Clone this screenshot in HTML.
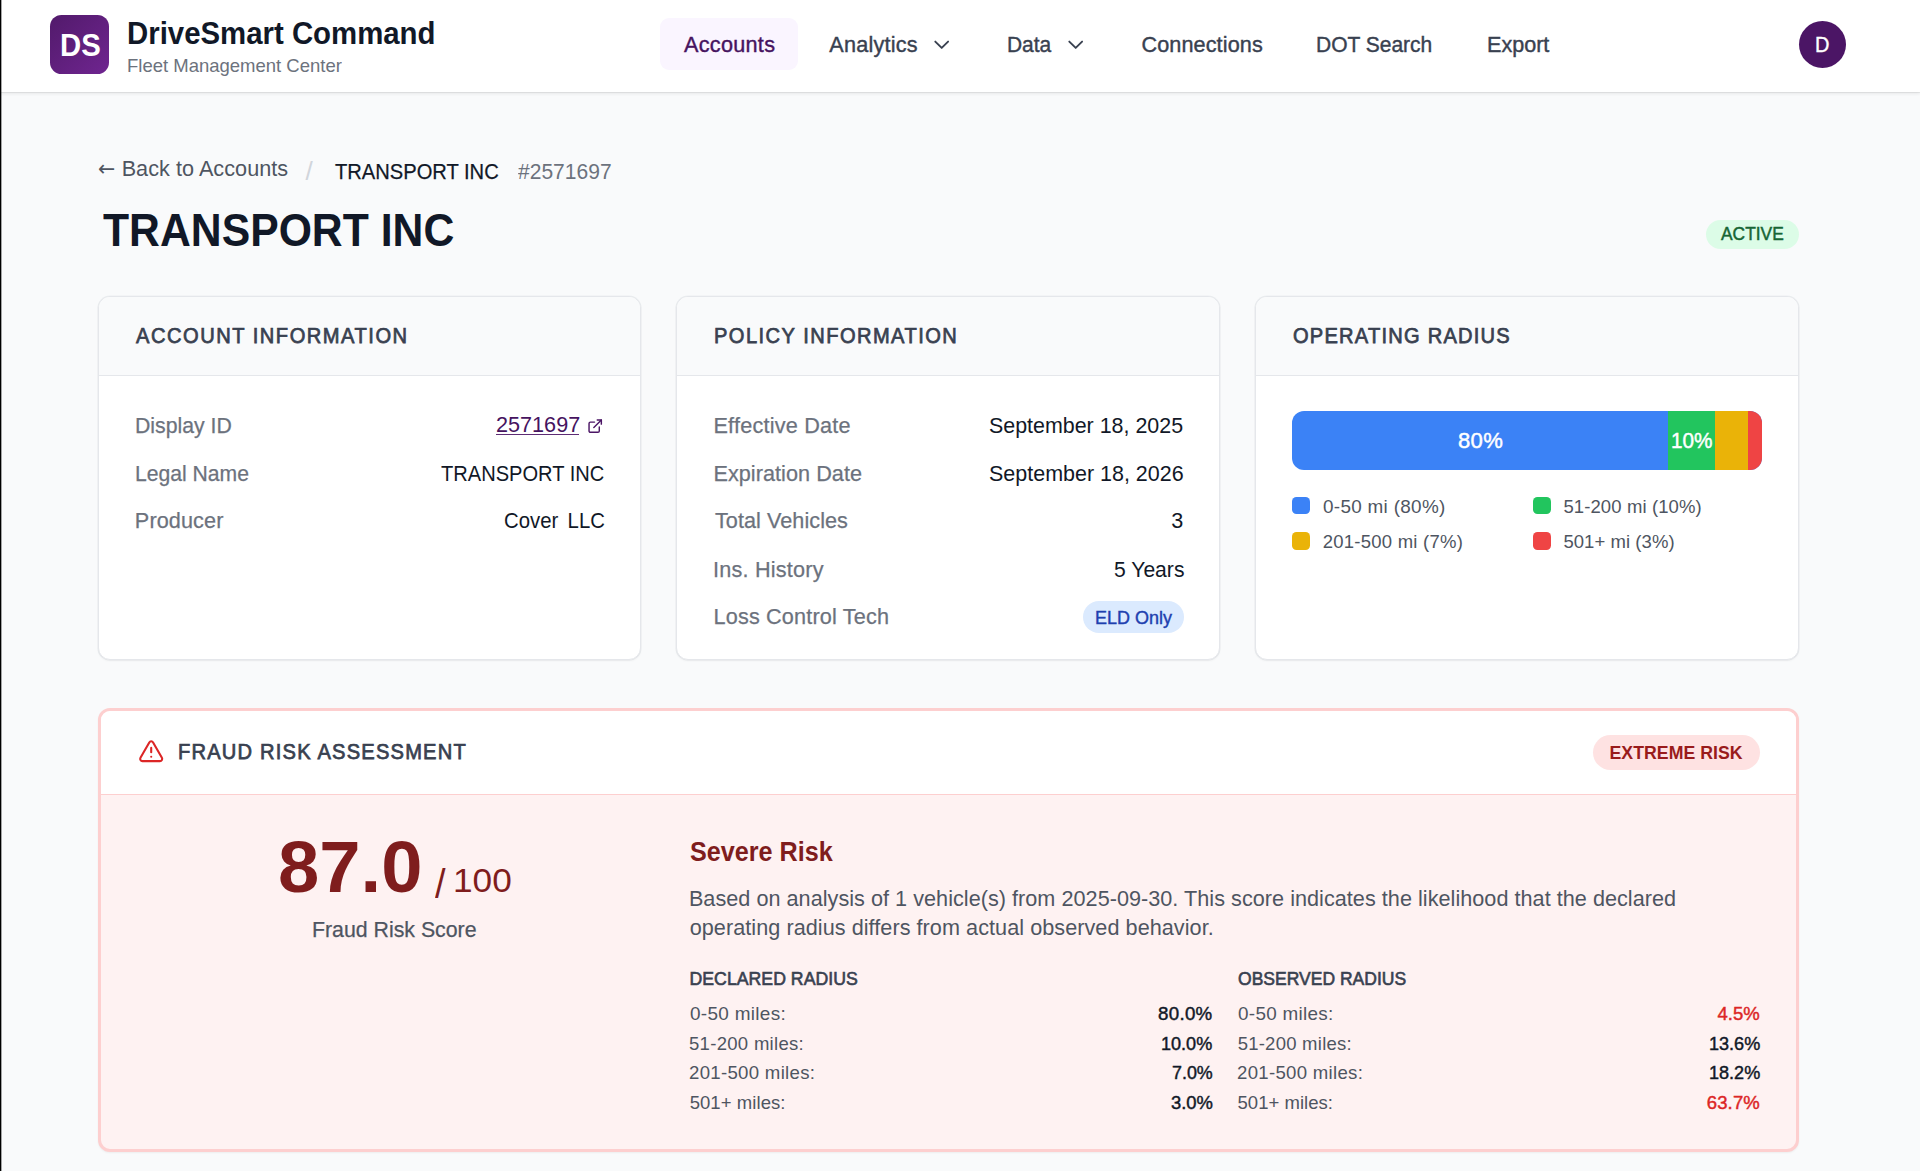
<!DOCTYPE html>
<html lang="en">
<head>
<meta charset="utf-8">
<title>DriveSmart Command - TRANSPORT INC</title>
<style>
*{box-sizing:border-box;margin:0;padding:0}
html,body{width:1920px;height:1171px;overflow:hidden;background:#f9fafb}
body{position:relative;font-family:"Liberation Sans",Arial,sans-serif;color:#111827;-webkit-font-smoothing:antialiased}
.t{position:absolute;white-space:pre;line-height:1;font-weight:400;text-decoration:none;display:block;transform-origin:0 50%}
.b{position:absolute;display:block}
.edge{left:0;top:0;width:2px;height:1171px;background:linear-gradient(90deg,#000 0,#000 1.2px,rgba(0,0,0,.35) 1.2px,rgba(0,0,0,.35) 2px);z-index:9}
header.b{left:0;top:0;width:1920px;height:91.6px;background:#fff;box-shadow:0 1px 0 rgba(0,0,0,.06),0 2px 3px rgba(0,0,0,.07)}
.logo{left:50px;top:15px;width:59px;height:59px;border-radius:11.5px;background:linear-gradient(135deg,#521a6b 0%,#6f2590 100%)}
.pill{left:660px;top:18px;width:137.5px;height:52px;border-radius:9px;background:#faf5ff}
.avatar{left:1799px;top:20.5px;width:47.2px;height:47.2px;border-radius:50%;background:#4b1565}
.card{background:#fff;border:1px solid #e5e7eb;border-radius:12px;box-shadow:0 1px 2px rgba(0,0,0,.05),0 0 0 .5px rgba(229,231,235,.6);overflow:hidden}
.card .hd{position:absolute;left:0;top:0;right:0;height:79px;background:#f9fafb;border-bottom:1px solid #e5e7eb}
.badge{border-radius:999px}
.sq{width:17.7px;height:17.7px;border-radius:4.5px}
.fraud{left:97.5px;top:708px;width:1701.2px;height:443.6px;border:3px solid #fdcfcf;border-radius:12px;background:#fef2f2;overflow:hidden;box-shadow:0 1px 2px rgba(0,0,0,.05)}
.fraud .hd{position:absolute;left:0;top:0;right:0;height:84px;background:#fff;border-bottom:1px solid #fdcfcf}
svg{position:absolute;overflow:visible}
</style>
</head>
<body>
<div class="b edge"></div>
<header class="b">
<div class="b logo"></div>
<span class="t" style="left:60.2px;top:30.71px;font-size:30.83px;color:#fff;font-weight:700;transform:scale(0.951,1.0);">DS</span>
<h1 class="t" style="left:127.09px;top:18.74px;font-size:30.83px;color:#111827;font-weight:700;transform:scale(0.9528,1.0);">DriveSmart Command</h1>
<p class="t" style="left:127.27px;top:56.8px;font-size:18.5px;color:#6c727d;transform:scale(0.9997,1.0);">Fleet Management Center</p>
<nav>
<div class="b pill"></div>
<a href="#" class="t" style="left:684.05px;top:33.66px;font-size:21.63px;color:#46135f;letter-spacing:0.28px;-webkit-text-stroke:0.4px #46135f;">Accounts</a>
<a href="#" class="t" style="left:829.24px;top:33.66px;font-size:21.63px;color:#394150;letter-spacing:0.24px;-webkit-text-stroke:0.4px #394150;">Analytics</a>
<a href="#" class="t" style="left:1006.78px;top:33.66px;font-size:21.63px;color:#394150;-webkit-text-stroke:0.4px #394150;transform:scale(0.9678,1.0);">Data</a>
<a href="#" class="t" style="left:1141.43px;top:33.66px;font-size:21.63px;color:#394150;letter-spacing:0.11px;-webkit-text-stroke:0.4px #394150;">Connections</a>
<a href="#" class="t" style="left:1316.19px;top:33.66px;font-size:21.63px;color:#394150;-webkit-text-stroke:0.4px #394150;transform:scale(0.9705,1.0);">DOT Search</a>
<a href="#" class="t" style="left:1487.18px;top:33.66px;font-size:21.63px;color:#394150;-webkit-text-stroke:0.4px #394150;transform:scale(0.9978,1.0);">Export</a>
<svg style="left:933.6px;top:40.3px" width="15.4" height="10" viewBox="0 0 15.4 10" fill="none" stroke="#394150" stroke-width="1.9" stroke-linecap="round" stroke-linejoin="round"><path d="M1.3 1.6 7.7 7.9l6.4-6.3"/></svg>
<svg style="left:1067.9px;top:40.3px" width="15.4" height="10" viewBox="0 0 15.4 10" fill="none" stroke="#394150" stroke-width="1.9" stroke-linecap="round" stroke-linejoin="round"><path d="M1.3 1.6 7.7 7.9l6.4-6.3"/></svg>
</nav>
<div class="b avatar"></div>
<span class="t" style="left:1814.85px;top:34.07px;font-size:21.63px;color:#fff;-webkit-text-stroke:0.4px #fff;transform:scale(0.925,1.0);">D</span>
</header>
<main>
<div class="crumbs">
<span class="t" style="left:97.89px;top:158.17px;font-size:21.63px;color:#4e5561;font-family:'DejaVu Sans',sans-serif;transform:scale(0.9502,1.0);">←</span>
<a href="#" class="t" style="left:121.67px;top:157.8px;font-size:21.63px;color:#4e5561;letter-spacing:0.04px;">Back to Accounts</a>
<span class="t" style="left:305.43px;top:158.2px;font-size:26.12px;color:#d1d5db;">/</span>
<span class="t" style="left:335.2px;top:161.26px;font-size:21.63px;color:#111827;-webkit-text-stroke:0.25px #111827;transform:scale(0.9309,1.0);">TRANSPORT INC</span>
<span class="t" style="left:517.84px;top:160.97px;font-size:21.63px;color:#6c727d;transform:scale(0.973,1.0);">#2571697</span>
</div>
<h2 class="t" style="left:102.5px;top:206.8px;font-size:46.29px;color:#111827;font-weight:700;transform:scale(0.923,1.0);">TRANSPORT INC</h2>
<div class="b badge" style="left:1706.3px;top:219.6px;width:93px;height:29.3px;background:#dcfce7"></div>
<span class="t" style="left:1721.26px;top:226.34px;font-size:17.7px;color:#166534;-webkit-text-stroke:0.45px #166534;transform:scale(0.9819,1.0);">ACTIVE</span>

<section class="b card" style="left:97.5px;top:296px;width:543.4px;height:364px"><div class="hd"></div></section>
<h3 class="t" style="left:136.0px;top:324.64px;font-size:21.63px;color:#394150;letter-spacing:1.63px;-webkit-text-stroke:0.75px #394150;transform:scale(0.9296,1.0);">ACCOUNT INFORMATION</h3>
<span class="t" style="left:134.52px;top:415.26px;font-size:21.63px;color:#6c727d;-webkit-text-stroke:0.25px #6c727d;transform:scale(0.9823,1.0);">Display ID</span>
<span class="t" style="left:134.55px;top:462.53px;font-size:21.63px;color:#6c727d;-webkit-text-stroke:0.25px #6c727d;transform:scale(0.9772,1.0);">Legal Name</span>
<span class="t" style="left:134.85px;top:510.11px;font-size:21.63px;color:#6c727d;letter-spacing:0.11px;-webkit-text-stroke:0.25px #6c727d;">Producer</span>
<a href="#" class="t" style="left:495.82px;top:413.8px;font-size:21.63px;color:#46135f;transform:scale(0.9999,1.0);">2571697</a>
<span class="t" style="left:440.83px;top:463.03px;font-size:21.63px;color:#111827;transform:scale(0.9286,1.0);">TRANSPORT INC</span>
<span class="t" style="left:503.66px;top:509.8px;font-size:21.63px;color:#111827;word-spacing:4px;transform:scale(0.9395,1.0);">Cover LLC</span>
<div class="b ul" style="left:496.2px;top:433.6px;width:82.5px;height:1px;background:#4b1565;opacity:.9"></div>
<svg style="left:586.9px;top:417.6px" width="16.4" height="16.4" viewBox="0 0 24 24" fill="none" stroke="#4b1565" stroke-width="2.1" stroke-linecap="round" stroke-linejoin="round"><path d="M15 3h6v6"/><path d="M10 14 21 3"/><path d="M18 13v6a2 2 0 0 1-2 2H5a2 2 0 0 1-2-2V8a2 2 0 0 1 2-2h6"/></svg>

<section class="b card" style="left:676.3px;top:296px;width:543.4px;height:364px"><div class="hd"></div></section>
<div class="b badge" style="left:1083.1px;top:601.2px;width:100.9px;height:32px;background:#dbeafe"></div>
<h3 class="t" style="left:714.26px;top:324.64px;font-size:21.63px;color:#394150;letter-spacing:1.58px;-webkit-text-stroke:0.75px #394150;transform:scale(0.9285,1.0);">POLICY INFORMATION</h3>
<span class="t" style="left:713.42px;top:415.26px;font-size:21.63px;color:#6c727d;letter-spacing:0.23px;-webkit-text-stroke:0.25px #6c727d;">Effective Date</span>
<span class="t" style="left:713.46px;top:462.53px;font-size:21.63px;color:#6c727d;letter-spacing:0.05px;-webkit-text-stroke:0.25px #6c727d;">Expiration Date</span>
<span class="t" style="left:715.01px;top:510.11px;font-size:21.63px;color:#6c727d;letter-spacing:0.05px;-webkit-text-stroke:0.25px #6c727d;">Total Vehicles</span>
<span class="t" style="left:713.03px;top:558.82px;font-size:21.63px;color:#6c727d;letter-spacing:0.21px;-webkit-text-stroke:0.25px #6c727d;">Ins. History</span>
<span class="t" style="left:713.51px;top:606.06px;font-size:21.63px;color:#6c727d;letter-spacing:0.17px;-webkit-text-stroke:0.25px #6c727d;">Loss Control Tech</span>
<span class="t" style="left:989.33px;top:414.97px;font-size:21.63px;color:#111827;transform:scale(0.9902,1.0);">September 18, 2025</span>
<span class="t" style="left:988.5px;top:463.03px;font-size:21.63px;color:#111827;transform:scale(0.9932,1.0);">September 18, 2026</span>
<span class="t" style="left:1171.2px;top:509.8px;font-size:21.63px;color:#111827;">3</span>
<span class="t" style="left:1113.61px;top:558.6px;font-size:21.63px;color:#111827;transform:scale(0.9765,1.0);">5 Years</span>
<span class="t" style="left:1095.19px;top:609.46px;font-size:18.5px;color:#1e40af;-webkit-text-stroke:0.4px #1e40af;transform:scale(0.9724,1.0);">ELD Only</span>

<section class="b card" style="left:1255.2px;top:296px;width:543.4px;height:364px"><div class="hd"></div></section>
<div class="b" style="left:1292.2px;top:411.1px;width:469.7px;height:59.1px;border-radius:12px;overflow:hidden;background:#3b82f6">
<div class="b" style="left:375.8px;top:0;width:47px;height:100%;background:#22c55e"></div>
<div class="b" style="left:422.7px;top:0;width:33px;height:100%;background:#eab308"></div>
<div class="b" style="left:455.6px;top:0;width:14.2px;height:100%;background:#ef4444"></div>
</div>
<div class="b sq" style="left:1292.3px;top:496.8px;background:#3b82f6"></div>
<div class="b sq" style="left:1533.3px;top:496.8px;background:#22c55e"></div>
<div class="b sq" style="left:1292.3px;top:532.2px;background:#eab308"></div>
<div class="b sq" style="left:1533.3px;top:532.2px;background:#ef4444"></div>
<h3 class="t" style="left:1293.35px;top:324.64px;font-size:21.63px;color:#394150;letter-spacing:1.32px;-webkit-text-stroke:0.75px #394150;transform:scale(0.9288,1.0);">OPERATING RADIUS</h3>
<span class="t" style="left:1457.68px;top:430.3px;font-size:21.63px;color:#fff;letter-spacing:0.3px;-webkit-text-stroke:0.45px #fff;transform:scale(1.0204,1.0);">80%</span>
<span class="t" style="left:1671.07px;top:430.3px;font-size:21.63px;color:#fff;-webkit-text-stroke:0.45px #fff;transform:scale(0.9599,1.0);">10%</span>
<span class="t" style="left:1322.81px;top:497.74px;font-size:18.5px;color:#4e5561;letter-spacing:0.3px;transform:scale(1.021,1.0);">0-50 mi (80%)</span>
<span class="t" style="left:1563.4px;top:497.74px;font-size:18.5px;color:#4e5561;letter-spacing:0.11px;">51-200 mi (10%)</span>
<span class="t" style="left:1322.7px;top:532.8px;font-size:18.5px;color:#4e5561;letter-spacing:0.24px;">201-500 mi (7%)</span>
<span class="t" style="left:1563.38px;top:532.8px;font-size:18.5px;color:#4e5561;letter-spacing:0.06px;">501+ mi (3%)</span>

<section class="b fraud"><div class="hd"></div></section>
<svg style="left:137.5px;top:737.6px" width="26.4" height="26.4" viewBox="0 0 24 24" fill="none" stroke="#dc2626" stroke-width="1.9" stroke-linecap="round" stroke-linejoin="round"><path d="m21.73 18-8-14a2 2 0 0 0-3.48 0l-8 14A2 2 0 0 0 4 21h16a2 2 0 0 0 1.73-3"/><path d="M12 9v4"/><path d="M12 17h.01"/></svg>
<div class="b badge" style="left:1592.5px;top:734.6px;width:167.5px;height:35.2px;background:#fee2e2"></div>
<h3 class="t" style="left:178.11px;top:741.04px;font-size:21.63px;color:#394150;letter-spacing:1.28px;-webkit-text-stroke:0.75px #394150;transform:scale(0.9306,1.0);">FRAUD RISK ASSESSMENT</h3>
<span class="t" style="left:1609.53px;top:744.8px;font-size:17.7px;color:#991b1b;font-weight:700;letter-spacing:0.03px;">EXTREME RISK</span>
<span class="t" style="left:277.64px;top:832.0px;font-size:71.47px;color:#7f1d1d;font-weight:700;transform:scale(1.0384,1.0);">87.0</span>
<span class="t" style="left:434.55px;top:862.8px;font-size:41.48px;color:#7f1d1d;transform:scale(0.914,1.0);">/</span>
<span class="t" style="left:452.61px;top:864.0px;font-size:33.83px;color:#7f1d1d;transform:scale(1.042,1.0);">100</span>
<span class="t" style="left:312.15px;top:918.53px;font-size:21.63px;color:#4e5561;-webkit-text-stroke:0.25px #4e5561;transform:scale(0.9849,1.0);">Fraud Risk Score</span>
<h4 class="t" style="left:690.12px;top:837.8px;font-size:27.8px;color:#7f1d1d;font-weight:700;transform:scale(0.906,1.0);">Severe Risk</h4>
<span class="t" style="left:688.9px;top:887.6px;font-size:21.63px;color:#4e5561;letter-spacing:0.03px;">Based on analysis of 1 vehicle(s) from 2025-09-30. This score indicates the likelihood that the declared</span>
<span class="t" style="left:689.72px;top:916.97px;font-size:21.63px;color:#4e5561;letter-spacing:0.05px;">operating radius differs from actual observed behavior.</span>
<h5 class="t" style="left:689.53px;top:970.66px;font-size:17.7px;color:#394150;letter-spacing:0.01px;-webkit-text-stroke:0.6px #394150;">DECLARED RADIUS</h5>
<h5 class="t" style="left:1237.65px;top:970.66px;font-size:17.7px;color:#394150;-webkit-text-stroke:0.6px #394150;transform:scale(0.9905,1.0);">OBSERVED RADIUS</h5>
<span class="t" style="left:690.18px;top:1005.26px;font-size:18.5px;color:#4e5561;letter-spacing:0.3px;transform:scale(1.024,1.0);">0-50 miles:</span>
<span class="t" style="left:1158.22px;top:1005.46px;font-size:18.5px;color:#111827;letter-spacing:0.3px;-webkit-text-stroke:0.45px #111827;transform:scale(1.0111,1.0);">80.0%</span>
<span class="t" style="left:1238.15px;top:1005.26px;font-size:18.5px;color:#4e5561;letter-spacing:0.3px;transform:scale(1.0196,1.0);">0-50 miles:</span>
<span class="t" style="left:1717.49px;top:1005.46px;font-size:18.5px;color:#dc2626;-webkit-text-stroke:0.45px #dc2626;">4.5%</span>
<span class="t" style="left:689.44px;top:1034.8px;font-size:18.5px;color:#4e5561;letter-spacing:0.3px;transform:scale(1.0007,1.0);">51-200 miles:</span>
<span class="t" style="left:1161.13px;top:1035.12px;font-size:18.5px;color:#111827;-webkit-text-stroke:0.45px #111827;transform:scale(0.9762,1.0);">10.0%</span>
<span class="t" style="left:1237.64px;top:1034.8px;font-size:18.5px;color:#4e5561;letter-spacing:0.25px;">51-200 miles:</span>
<span class="t" style="left:1708.81px;top:1035.12px;font-size:18.5px;color:#111827;-webkit-text-stroke:0.45px #111827;transform:scale(0.9762,1.0);">13.6%</span>
<span class="t" style="left:689.21px;top:1064.26px;font-size:18.5px;color:#4e5561;letter-spacing:0.3px;transform:scale(1.0058,1.0);">201-500 miles:</span>
<span class="t" style="left:1171.59px;top:1064.46px;font-size:18.5px;color:#111827;-webkit-text-stroke:0.45px #111827;transform:scale(0.9658,1.0);">7.0%</span>
<span class="t" style="left:1237.46px;top:1064.26px;font-size:18.5px;color:#4e5561;letter-spacing:0.3px;transform:scale(1.0047,1.0);">201-500 miles:</span>
<span class="t" style="left:1708.81px;top:1064.46px;font-size:18.5px;color:#111827;-webkit-text-stroke:0.45px #111827;transform:scale(0.9762,1.0);">18.2%</span>
<span class="t" style="left:689.67px;top:1093.8px;font-size:18.5px;color:#4e5561;letter-spacing:0.07px;">501+ miles:</span>
<span class="t" style="left:1170.75px;top:1094.12px;font-size:18.5px;color:#111827;-webkit-text-stroke:0.45px #111827;transform:scale(0.9954,1.0);">3.0%</span>
<span class="t" style="left:1237.55px;top:1093.8px;font-size:18.5px;color:#4e5561;letter-spacing:0.02px;">501+ miles:</span>
<span class="t" style="left:1706.74px;top:1094.11px;font-size:18.5px;color:#dc2626;letter-spacing:0.15px;-webkit-text-stroke:0.45px #dc2626;">63.7%</span>
</main>
</body>
</html>
